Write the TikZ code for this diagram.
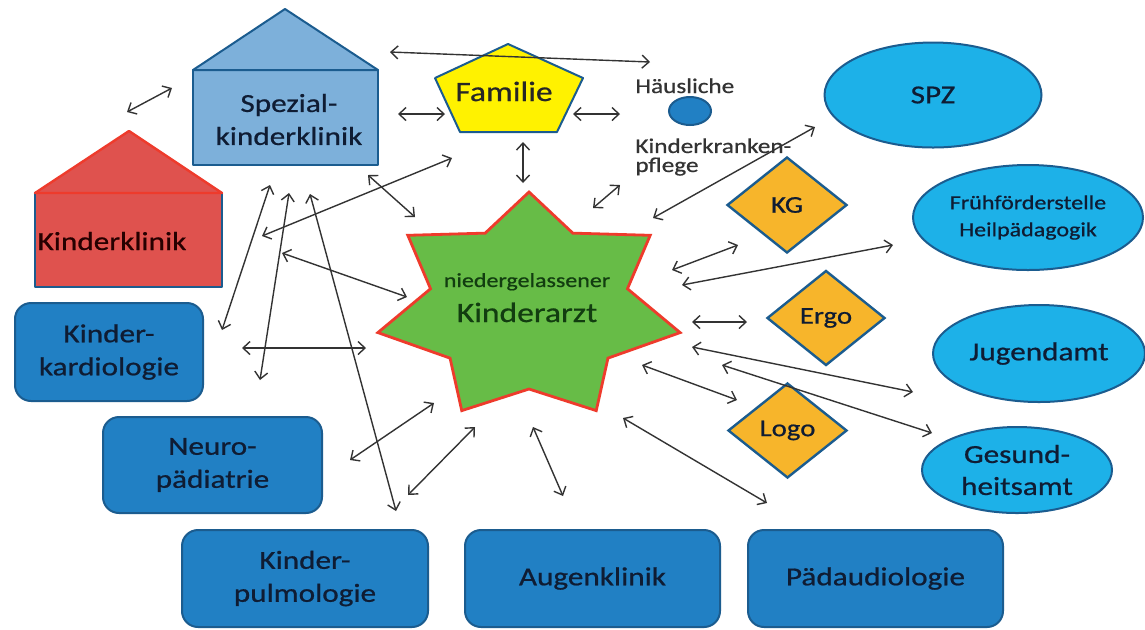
\documentclass[tikz,border=0pt]{standalone}
\usepackage{fontspec}
\setmainfont{Carlito}[FakeStretch=1.2,FakeBold=0.7]
\usetikzlibrary{arrows.meta,shapes.geometric}
\definecolor{boxblue}{HTML}{2180C4}
\definecolor{boxline}{HTML}{1B5C8F}
\definecolor{amtcyan}{HTML}{1DB1E8}
\definecolor{thergold}{HTML}{F7B52B}
\definecolor{spezblue}{HTML}{7DB0DA}
\definecolor{klinikred}{HTML}{DF524E}
\definecolor{roofred}{HTML}{EE3B2C}
\definecolor{famgelb}{HTML}{FFF200}
\definecolor{arztgruen}{HTML}{67BC47}
\definecolor{ink}{HTML}{0F1C33}
\definecolor{arztink}{HTML}{123D10}
\definecolor{pfeil}{HTML}{333333}

\begin{document}
\begin{tikzpicture}[
  x=0.5pt, y=-0.5pt, >={Straight Barb[length=3.5pt,width=6.5pt]},
  every node/.style={font=\fontsize{13}{16.5}\selectfont,text=ink,align=center,inner sep=0pt},
  fach/.style={rectangle,rounded corners=8pt,draw=boxline,line width=1pt,fill=boxblue},
  amt/.style={ellipse,draw=boxline,line width=1pt,fill=amtcyan},
  ther/.style={diamond,draw=boxline,line width=1.2pt,fill=thergold,font=\fontsize{12}{14}\selectfont},
  haus/.style={draw=boxline,line width=1pt,line join=round},
  link/.style={<->,draw=pfeil,line width=0.7pt}
]
\fill[white] (0,0) rectangle (1145,629);
\useasboundingbox (0,0) rectangle (1145,629);
% Kliniken
\draw[haus,fill=spezblue] (193,70) rectangle (378,165);
\draw[haus,fill=spezblue] (193,70) -- (285,9) -- (378,70) -- cycle;
\draw[haus,fill=klinikred] (35,193) rectangle (222,287);
\draw[haus,draw=roofred,line width=1.2pt,fill=klinikred] (35,193) -- (129,131) -- (222,193) -- cycle;
\node (spezk) at (289,119.5) {Spezial-\\kinderklinik};
\node[anchor=base,text=black!85!red] (kinderk) at (112,250) {Kinderklinik};
% Familie, Pflege
\draw[haus,fill=famgelb] (508,44) -- (583,78) -- (557,132) -- (460,132) -- (435,78) -- cycle;
\node[anchor=base,font=\fontsize{14}{17}\selectfont,text=black!85] (familie) at (504,101) {Familie};
\node[anchor=base west,font=\fontsize{10.5}{9.5}\selectfont,text=black!80] (haeusl) at (635,93) {Häusliche};
\node[ellipse,draw=boxline,line width=1pt,fill=boxblue,minimum width=21pt,minimum height=14pt] (hkp) at (690,111) {};
\node[anchor=west,align=left,font=\fontsize{10.5}{9.5}\selectfont,text=black!80] (kkpfl) at (635,157) {Kinderkranken-\\pflege};
% Kinderarzt
\draw[draw=roofred,line width=1.4pt,fill=arztgruen] (529,192)
  \foreach \k in {1,...,7}{ -- ({529+101*cos(90-\k*360/7+180/7)},{307-82*sin(90-\k*360/7+180/7)})
  -- ({529+155*cos(90-\k*360/7)},{307-115*sin(90-\k*360/7)}) } -- cycle;
\node[anchor=base,font=\fontsize{10}{12}\selectfont,text=arztink] (arzt1) at (527,287) {niedergelassener};
\node[anchor=base,font=\fontsize{14}{17}\selectfont,text=arztink] (arzt2) at (527,322) {Kinderarzt};
% Therapien
\node[ther,minimum width=60pt,minimum height=48pt] (kg) at (787,205) {KG};
\node[ther,minimum width=59pt,minimum height=47.5pt] (ergo) at (826,318) {Ergo};
\node[ther,minimum width=59.5pt,minimum height=47.5pt] (logo) at (787.5,430.5) {Logo};
% Aemter
\node[amt,minimum width=108.5pt,minimum height=52.5pt] (spz) at (933,95) {SPZ};
\node[amt,minimum width=115pt,minimum height=52.5pt,font=\fontsize{10}{13.5}\selectfont] (fruehf) at (1028,217.5) {Frühförderstelle\\Heilpädagogik};
\node[amt,minimum width=106pt,minimum height=48.5pt] (jugend) at (1039,353.5) {Jugendamt};
\node[amt,minimum width=95pt,minimum height=43pt,font=\fontsize{13}{16}\selectfont] (gesund) at (1017,470) {Gesund-\\heitsamt};
% Fachkliniken
\node[fach,minimum width=94pt,minimum height=49pt] (kardio) at (109,352) {Kinder-\\kardiologie};
\node[fach,minimum width=109.5pt,minimum height=48pt] (neuro) at (212.5,465) {Neuro-\\pädiatrie};
\node[fach,minimum width=123pt,minimum height=48.5pt] (pulmo) at (305,578.5) {Kinder-\\pulmologie};
\node[fach,minimum width=127.5pt,minimum height=48.5pt] (augen) at (592.5,578.5) {Augenklinik};
\node[fach,minimum width=127.5pt,minimum height=48.5pt] (audio) at (875.5,578.5) {Pädaudiologie};
% Verbindungen
\foreach \xa/\ya/\xb/\yb [count=\i] in {
  127/112/172/88, 390/52/650/62, 398/114/445/114, 573/114/620/114,
  523/142/523/183, 593/208/620/185, 653/218/815/127, 262/236/452/158,
  368/175/415/217, 270/185/222/330, 289/193/260/380, 310/194/396/511,
  282/253/407/297, 242/348/366/348, 350/460/434/403, 408/495/475/427,
  533/427/563/496, 623/418/767/503, 642/365/737/400, 722/365/932/433,
  692/347/913/392, 692/322/747/322, 682/285/893/245, 672/270/738/245}
{ \coordinate (p\i) at (\xa,\ya); \coordinate (q\i) at (\xb,\yb); \draw[link] (p\i) -- (q\i); }
\end{tikzpicture}
\end{document}
